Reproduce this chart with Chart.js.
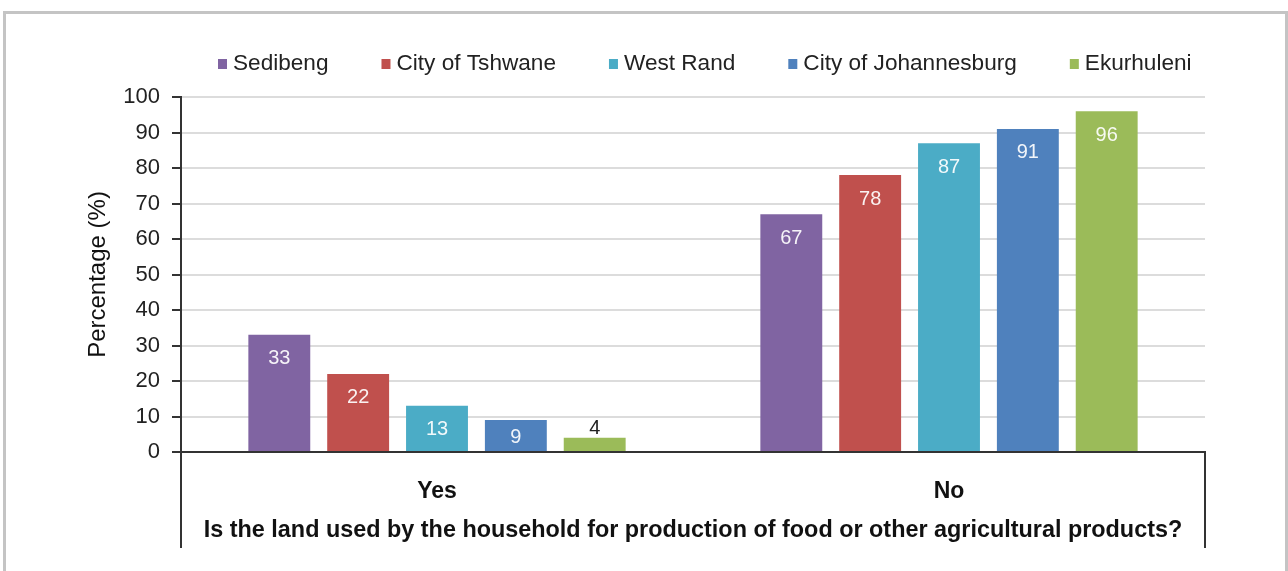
<!DOCTYPE html>
<html>
<head>
<meta charset="utf-8">
<script src="https://cdn.jsdelivr.net/npm/chart.js@4/dist/chart.umd.min.js"></script>
<style>
  body { margin: 0; background: #fff; }
  #frame { position: absolute; left: 3px; top: 11px; width: 1279px; height: 600px;
           border: 3px solid #c4c4c4; border-bottom: none; }
  #chart { position: absolute; left: 0; top: 0; }
</style>
</head>
<body>
<div id="frame"></div>
<canvas id="chart" width="1288" height="571"></canvas>
<script>
// categories and series
const categories = ['Yes', 'No'];
const regionNames = ['Sedibeng', 'City of Tshwane', 'West Rand', 'City of Johannesburg', 'Ekurhuleni'];
const sedibeng = [33, 67];
const tshwane = [22, 78];
const westRand = [13, 87];
const johannesburg = [9, 91];
const ekurhuleni = [4, 96];
const regionColours = ['#8064A2', '#C0504D', '#4BACC6', '#4F81BD', '#9BBB59'];
const yMin = 0, yMax = 100, yStep = 10;

const seriesValues = [sedibeng, tshwane, westRand, johannesburg, ekurhuleni];

Chart.defaults.font.family = '"Liberation Sans", Arial, sans-serif';
Chart.defaults.color = '#222';

// legend drawn by hand, so it can sit where the picture has it
const legendPlugin = {
  id: 'hangLegend',
  afterDraw(chart) {
    const ctx = chart.ctx;
    ctx.save();
    ctx.font = '22.6px "Liberation Sans", Arial, sans-serif';
    ctx.textBaseline = 'middle';
    ctx.textAlign = 'left';
    let x = 218;
    const y = 64;
    chart.data.datasets.forEach(ds => {
      ctx.fillStyle = ds.backgroundColor;
      ctx.fillRect(x, y - 5, 9, 10);
      ctx.fillStyle = '#222';
      ctx.fillText(ds.label, x + 15, y);
      x += 15 + ctx.measureText(ds.label).width + 53;
    });
    ctx.restore();
  }
};

// value labels: inside the top of the bar, or above it when the bar is very short
const valuePlugin = {
  id: 'valueLabels',
  afterDatasetsDraw(chart) {
    const ctx = chart.ctx;
    ctx.save();
    ctx.font = '20px "Liberation Sans", Arial, sans-serif';
    ctx.textAlign = 'center';
    ctx.textBaseline = 'middle';
    chart.data.datasets.forEach((ds, i) => {
      chart.getDatasetMeta(i).data.forEach((bar, j) => {
        const v = ds.data[j];
        if (bar.base - bar.y > 22) {
          ctx.fillStyle = 'rgba(255,255,255,0.92)';
          ctx.fillText(v, bar.x, Math.min(bar.y + 24, bar.base - 14));
        } else {
          ctx.fillStyle = '#222';
          ctx.fillText(v, bar.x, bar.y - 9);
        }
      });
    });
    ctx.restore();
  }
};

// the box lines under the x axis (Excel style)
const boxPlugin = {
  id: 'axisBox',
  afterDraw(chart) {
    const ctx = chart.ctx, a = chart.chartArea;
    ctx.save();
    ctx.strokeStyle = '#333';
    ctx.lineWidth = 2;
    ctx.beginPath();
    ctx.moveTo(a.left, a.bottom);
    ctx.lineTo(a.left, 548);
    ctx.moveTo(a.right, a.bottom - 1);
    ctx.lineTo(a.right, 548);
    ctx.stroke();
    ctx.restore();
  }
};

new Chart(document.getElementById('chart'), {
  type: 'bar',
  data: {
    labels: categories,
    datasets: regionNames.map((name, i) => ({
      label: name,
      data: seriesValues[i],
      backgroundColor: regionColours[i],
      categoryPercentage: 0.77,
      barPercentage: 0.785
    }))
  },
  options: {
    responsive: false,
    animation: false,
    layout: { padding: { left: 84, right: 83, top: 97, bottom: 23 } },
    plugins: {
      legend: { display: false },
      tooltip: { enabled: false }
    },
    scales: {
      x: {
        grid: { display: false },
        border: { display: true, color: '#333', width: 2 },
        ticks: { padding: 18, font: { size: 23, weight: 'bold' }, color: '#111' },
        title: {
          display: true,
          text: 'Is the land used by the household for production of food or other agricultural products?',
          font: { size: 23.4, weight: 'bold' },
          color: '#111',
          padding: { top: 0, bottom: 3 }
        },
        afterFit: s => { s.height = 96; }
      },
      y: {
        min: yMin,
        max: yMax,
        ticks: { stepSize: yStep, padding: 12, font: { size: 22 }, color: '#222' },
        grid: { color: '#dcdcdc', lineWidth: 2, tickColor: '#333', tickLength: 9 },
        border: { display: true, color: '#333', width: 2 },
        title: {
          display: true,
          text: 'Percentage (%)',
          font: { size: 24 },
          color: '#111',
          padding: { top: 0, bottom: 0 }
        },
        afterFit: s => { s.width = 97; }
      }
    }
  },
  plugins: [legendPlugin, valuePlugin, boxPlugin]
});
</script>
</body>
</html>
